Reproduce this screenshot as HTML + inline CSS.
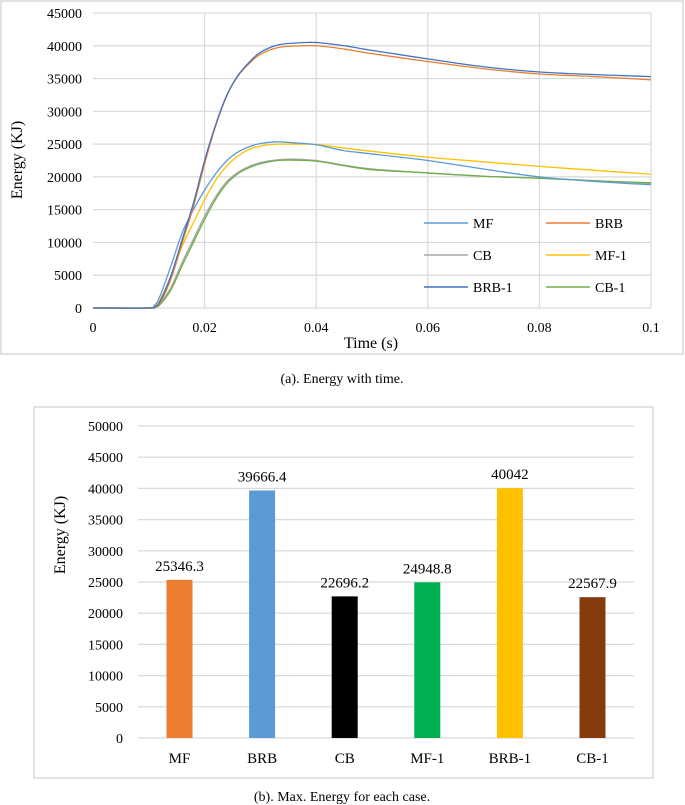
<!DOCTYPE html>
<html><head><meta charset="utf-8"><style>
body{margin:0;background:#fff;}
svg{display:block;font-family:"Liberation Serif",serif;}
</style></head><body>
<svg id="s" width="685" height="805">
<rect x="1" y="1" width="682" height="353" fill="#fff" stroke="#d9d9d9" stroke-width="1.5"/>
<g id="ga"></g>
<text x="342" y="383" text-anchor="middle" font-size="14">(a). Energy with time.</text>
<rect x="34" y="407" width="619" height="371" fill="#fff" stroke="#d9d9d9" stroke-width="1.5"/>
<g id="gb"></g>
<text x="342" y="801" text-anchor="middle" font-size="14">(b). Max. Energy  for each case.</text>
</svg>
<script>
const times=[0,0.01,0.011,0.012,0.014,0.016,0.018,0.02,0.022,0.024,0.026,0.028,0.03,0.033,0.036,0.04,0.045,0.05,0.06,0.07,0.08,0.09,0.1];
const seriesNames=["MF","BRB","CB","MF-1","BRB-1","CB-1"];
const mfVals=[0,0,400,1800,6500,11500,15000,18000,20500,22500,23800,24600,25100,25350,25200,24900,24000,23500,22500,21200,20000,19300,18800];
const brbVals=[0,0,150,800,4500,10000,15500,22000,27800,32400,35400,37300,38700,39700,39950,40000,39500,38800,37600,36500,35700,35300,34800];
const cbVals=[0,0,100,700,3200,7000,10500,14000,17000,19300,20700,21600,22200,22600,22700,22500,21800,21200,20600,20100,19800,19400,19000];
const mf1Vals=[0,0,200,1200,5000,9500,13000,16500,19500,21700,23200,24200,24700,25000,25000,24950,24400,23900,23000,22300,21600,21000,20400];
const brb1Vals=[0,0,200,1000,5000,10500,16000,22500,28000,32500,35500,37500,39000,40100,40400,40500,40000,39300,38000,36800,36000,35600,35300];
const cb1Vals=[0,0,50,500,2800,6500,10000,13500,16600,19000,20500,21400,22000,22500,22550,22400,21700,21100,20600,20100,19800,19400,19100];
const xTicksA=[0,0.02,0.04,0.06,0.08,0.1];
const xTickLabelsA=["0","0.02","0.04","0.06","0.08","0.1"];
const yTicksA=[0,5000,10000,15000,20000,25000,30000,35000,40000,45000];
const barCats=["MF","BRB","CB","MF-1","BRB-1","CB-1"];
const barVals=[25346.3,39666.4,22696.2,24948.8,40042,22567.9];
const barLabels=["25346.3","39666.4","22696.2","24948.8","40042","22567.9"];
const yTicksB=[0,5000,10000,15000,20000,25000,30000,35000,40000,45000,50000];

const NS="http://www.w3.org/2000/svg";
function mk(p,t,a){const e=document.createElementNS(NS,t);for(const k in a)e.setAttribute(k,a[k]);p.appendChild(e);return e;}
// chart a
const ga=document.getElementById('ga');
const xA=v=>93+v/0.1*558, yA=v=>308-v/45000*295;
yTicksA.forEach((v,i)=>{
 const l=mk(ga,'line',{x1:93,x2:651,y1:yA(v),y2:yA(v),stroke:'#d9d9d9','stroke-width':1.2});
 
 
 const t=mk(ga,'text',{x:82,y:yA(v)+5,'text-anchor':'end','font-size':14});t.textContent=v;
 
 
});
xTicksA.forEach((v,i)=>{
 if(i>0){const l=mk(ga,'line',{x1:xA(v),x2:xA(v),y1:13,y2:308,stroke:'#d9d9d9','stroke-width':1.2});
 
 }
 const t=mk(ga,'text',{x:xA(v),y:332,'text-anchor':'middle','font-size':14});t.textContent=xTickLabelsA[i];
 
 
});
let t1=mk(ga,'text',{x:371,y:348,'text-anchor':'middle','font-size':16});t1.textContent='Time (s)';


let t2=mk(ga,'text',{x:0,y:0,'text-anchor':'middle','font-size':16,transform:'translate(22,160) rotate(-90)'});t2.textContent='Energy (KJ)';


const allVals=[mfVals,brbVals,cbVals,mf1Vals,brb1Vals,cb1Vals];
const cols=['#5b9bd5','#ed7d31','#a5a5a5','#ffc000','#4472c4','#70ad47'];
const order=[2,5,3,0,1,4];
order.forEach(k=>{
 const pts=times.map((t,i)=>[xA(t),yA(allVals[k][i])]);
 let d='M'+pts[0].join(',');
 for(let i=0;i<pts.length-1;i++){
  const p0=pts[Math.max(0,i-1)],p1=pts[i],p2=pts[i+1],p3=pts[Math.min(pts.length-1,i+2)];
  const c1=[p1[0]+(p2[0]-p0[0])/6,p1[1]+(p2[1]-p0[1])/6],c2=[p2[0]-(p3[0]-p1[0])/6,p2[1]-(p3[1]-p1[1])/6];
  d+=' C'+c1.join(',')+' '+c2.join(',')+' '+p2.join(',');
 }
 const p=mk(ga,'path',{d:d,fill:'none',stroke:cols[k],'stroke-width':1.3});
 
 
});
seriesNames.forEach((n,k)=>{
 const lx=k%2==0?424:546, ly=223+Math.floor(k/2)*32;
 const l=mk(ga,'line',{x1:lx,x2:lx+44,y1:ly,y2:ly,stroke:cols[k],'stroke-width':1.5});
 
 
 const t=mk(ga,'text',{x:lx+49,y:ly+5,'font-size':14});t.textContent=n;
 
 
});
// chart b
const gb=document.getElementById('gb');
const yB=v=>738-v/50000*312;
yTicksB.forEach(v=>{
 const l=mk(gb,'line',{x1:138,x2:634,y1:yB(v),y2:yB(v),stroke:'#d9d9d9','stroke-width':1.2});
 
 
 const t=mk(gb,'text',{x:123,y:yB(v)+5,'text-anchor':'end','font-size':14});t.textContent=v;
 
 
});
let t3=mk(gb,'text',{x:0,y:0,'text-anchor':'middle','font-size':16,transform:'translate(65,535) rotate(-90)'});t3.textContent='Energy (KJ)';


const bcols=['#ed7d31','#5b9bd5','#000000','#00b050','#ffc000','#843c0c'];
barCats.forEach((c,i)=>{
 const cx=179.5+i*82.6;
 const r=mk(gb,'rect',{x:cx-13,y:yB(barVals[i]),width:26,height:yB(0)-yB(barVals[i]),fill:bcols[i]});
 
 
 const t=mk(gb,'text',{x:cx,y:yB(barVals[i])-9,'text-anchor':'middle','font-size':15});t.textContent=barLabels[i];
 
 
 const t4=mk(gb,'text',{x:cx,y:763,'text-anchor':'middle','font-size':15});t4.textContent=c;
 
 
});
</script>
</body></html>
